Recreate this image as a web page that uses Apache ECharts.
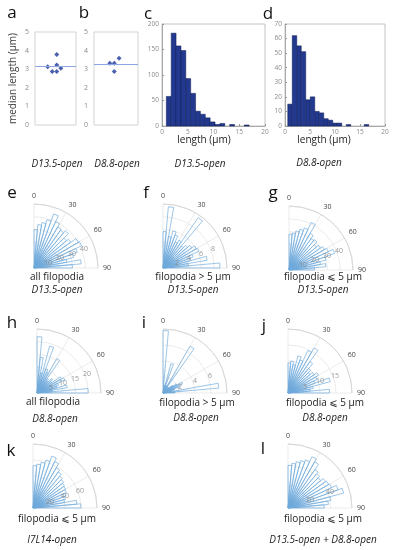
<!DOCTYPE html>
<html><head><meta charset="utf-8">
<script src="https://cdn.jsdelivr.net/npm/echarts@6/dist/echarts.min.js"></script>
<style>html,body{margin:0;padding:0;background:#fff}#c{width:396px;height:550px}</style>
</head><body><div id="c"></div>
<script>
// ---------- data ----------
const medianA = [3.13, 2.87, 2.87, 3.23, 3.79, 3.05];
const jitterA = [0.31, 0.42, 0.53, 0.53, 0.53, 0.63];
const medianLineA = 3.15;
const medianB = [3.32, 3.32, 3.59, 2.87];
const jitterB = [0.36, 0.46, 0.57, 0.46];
const medianLineB = 3.28;

const histCEdges = [0.84,1.79,2.73,3.68,4.62,5.57,6.52,7.46,8.41,9.35,10.3,11.25,12.19,13.14,14.08,15.03,15.97,16.92];
const histCCounts = [58,182,157,148,93,64,29,23,16,8,3,5,0,3,0,0,2];
const histDEdges = [0.55,1.45,2.35,3.25,4.15,5.05,5.95,6.85,7.75,8.65,9.55,10.45,11.35,12.25,13.15,14.05,14.95,15.85,16.75];
const histDCounts = [15,62,55,51,18,20,10,9,5,4,2,2,0,1,0,0,0,1];

const roseBinEdges = [0,5,10,15,20,25,30,35,40,45,50,55,60,65,70,75,80,85,90];
const roseE = [30,34,36,39,45,40,37,36,38,33,35,40,41,36,32,26,37,30];
const roseF = [5.7,9.6,5,6,5.5,4.5,5,9.6,4.5,5,5.5,6,6.2,5,4.5,7,4,8.9];
const roseG = [28,29,31,33,35,41,33,30,31,28,30,32,34,38,30,25,29,20];
const roseH = [22,14,8,19,10,9,15.5,7,6,8,7,11,12,9,8,12,6,20];
const roseI = [7.8,0,1,3.8,0,1,6.75,1,0.5,1,1.5,2,2.7,2.2,1.5,1,7,1.5];
const roseJ = [9.4,10,9,12,11,14.7,16.3,12,10,9,10,11,10,9,13.7,8,7,13];
const roseK = [53,55,58,62,69,64,58,55,52,50,48,47,46,44,42,40,55,60];
const roseL = [40,42,44,46,48,53,50,44,42,40,43,44,45,50,54,41,38,34];

const ticksE = [10,20,30,40], maxE = 50;
const ticksF = [2,4,6,8],     maxF = 10;
const ticksG = [10,20,30,40], maxG = 50;
const ticksH = [5,10,15,20],  maxH = 25;
const ticksI = [2,4,6],       maxI = 8;
const ticksJ = [5,10,15],     maxJ = 20;
const ticksK = [20,40,60],    maxK = 80;
const ticksL = [20,40],       maxL = 60;

// ---------- layout ----------
const FONT = '"Open Sans", "DejaVu Sans", sans-serif';
const chart = echarts.init(document.getElementById('c'), null, {renderer:'canvas'});

const roses = [
  {v: roseE, t: ticksE, m: maxE, c: [34, 268]},
  {v: roseF, t: ticksF, m: maxF, c: [163, 268]},
  {v: roseG, t: ticksG, m: maxG, c: [289, 270]},
  {v: roseH, t: ticksH, m: maxH, c: [37, 393]},
  {v: roseI, t: ticksI, m: maxI, c: [163, 393]},
  {v: roseJ, t: ticksJ, m: maxJ, c: [288, 393]},
  {v: roseK, t: ticksK, m: maxK, c: [33, 508]},
  {v: roseL, t: ticksL, m: maxL, c: [288, 508]}
];
const R = 64;

const polar = [], angleAxis = [], radiusAxis = [], series = [];

roses.forEach((rs, i) => {
  polar.push({center: rs.c, radius: R});
  angleAxis.push({
    polarIndex: i, type: 'value', min: 0, max: 90, interval: 30,
    startAngle: 90, endAngle: 0, clockwise: true,
    axisLine: {lineStyle: {color: '#d6d6d6', width: 1}},
    axisTick: {show: false},
    axisLabel: {fontSize: 7, color: '#444', fontFamily: FONT, margin: 5},
    splitLine: {show: true, lineStyle: {color: '#e6e6e6', width: 0.8}}
  });
  radiusAxis.push({
    polarIndex: i, type: 'value', min: 0, max: rs.m, interval: rs.t[1] - rs.t[0],
    axisLine: {show: false}, axisTick: {show: false}, axisLabel: {show: false},
    splitLine: {show: true, lineStyle: {color: '#e6e6e6', width: 0.8}}
  });
  series.push({
    type: 'custom', coordinateSystem: 'polar', polarIndex: i, silent: true,
    encode: {radius: 2, angle: 0},
    data: rs.v.map((val, k) => [roseBinEdges[k], roseBinEdges[k + 1], val]),
    renderItem: function (params, api) {
      const a0 = api.value(0), a1 = api.value(1), r = api.value(2);
      if (!r) return null;
      const o = api.coord([0, a0]);
      const p1 = api.coord([r, a0]);
      const p2 = api.coord([r, a1]);
      const cs = params.coordSys;
      return {
        type: 'polygon',
        shape: {points: [o, p1, p2]},
        style: {
          fill: {type: 'radial', x: cs.cx, y: cs.cy, r: cs.r, global: true,
            colorStops: [
              {offset: 0, color: 'rgba(8,85,165,1)'},
              {offset: 0.08, color: 'rgba(40,118,192,0.75)'},
              {offset: 0.25, color: 'rgba(120,172,222,0.32)'},
              {offset: 0.5, color: 'rgba(205,226,245,0.06)'},
              {offset: 1, color: 'rgba(255,255,255,0)'}
            ]},
          stroke: '#74aedd', lineWidth: 0.7
        }
      };
    }
  });
  series.push({
    type: 'scatter', coordinateSystem: 'polar', polarIndex: i, silent: true,
    symbolSize: 0, z: 10,
    data: rs.t.map(t => [t, 70]),
    label: {show: true, position: 'inside', offset: [2, -1], formatter: p => String(p.value[0]),
      fontSize: 7, color: '#808080', fontFamily: FONT}
  });
});

const grid = [
  {left: 35, top: 32, width: 41, height: 93, show: true, borderColor: '#c8c8c8', borderWidth: 0.8},
  {left: 94, top: 32, width: 44, height: 93, show: true, borderColor: '#c8c8c8', borderWidth: 0.8},
  {left: 162, top: 24, width: 103, height: 102, show: true, borderColor: '#b5b5b5', borderWidth: 0.8},
  {left: 285, top: 24, width: 100, height: 102, show: true, borderColor: '#b5b5b5', borderWidth: 0.8}
];
const smallLabel = {fontSize: 6.5, color: '#8a8a8a', fontFamily: FONT};
const xAxis = [
  {gridIndex: 0, type: 'value', min: 0, max: 1, show: false},
  {gridIndex: 1, type: 'value', min: 0, max: 1, show: false},
  {gridIndex: 2, type: 'value', min: 0, max: 20, interval: 5,
    axisLine: {lineStyle: {color: '#999', width: 0.8}}, axisTick: {inside: true, length: 2, lineStyle: {color: '#999'}},
    axisLabel: Object.assign({margin: 3}, smallLabel), splitLine: {show: false}},
  {gridIndex: 3, type: 'value', min: 0, max: 20, interval: 5,
    axisLine: {lineStyle: {color: '#999', width: 0.8}}, axisTick: {inside: true, length: 2, lineStyle: {color: '#999'}},
    axisLabel: Object.assign({margin: 3}, smallLabel), splitLine: {show: false}}
];
const yAxis = [
  {gridIndex: 0, type: 'value', min: 0, max: 5, interval: 1,
    axisLine: {show: false}, axisTick: {show: false}, splitLine: {show: false},
    axisLabel: Object.assign({margin: 6}, smallLabel, {fontSize: 7}),
    name: 'median length (\u00b5m)', nameLocation: 'middle', nameGap: 17, nameRotate: 90,
    nameTextStyle: {fontSize: 10, color: '#444', fontFamily: FONT}},
  {gridIndex: 1, type: 'value', min: 0, max: 5, interval: 1,
    axisLine: {show: false}, axisTick: {show: false}, splitLine: {show: false},
    axisLabel: Object.assign({margin: 6}, smallLabel, {fontSize: 7})},
  {gridIndex: 2, type: 'value', min: 0, max: 200, interval: 50,
    axisLine: {show: true, lineStyle: {color: '#999', width: 0.8}}, axisTick: {inside: true, length: 2, lineStyle: {color: '#999'}},
    splitLine: {show: false}, axisLabel: Object.assign({margin: 3}, smallLabel)},
  {gridIndex: 3, type: 'value', min: 0, max: 70, interval: 10,
    axisLine: {show: true, lineStyle: {color: '#999', width: 0.8}}, axisTick: {inside: true, length: 2, lineStyle: {color: '#999'}},
    splitLine: {show: false}, axisLabel: Object.assign({margin: 3}, smallLabel)}
];

function medianSeries(gi, vals, jit, line) {
  return {
    type: 'scatter', xAxisIndex: gi, yAxisIndex: gi, symbol: 'diamond', symbolSize: 5,
    itemStyle: {color: '#1f3a9a'}, silent: true,
    data: vals.map((v, k) => [jit[k], v]),
    markLine: {silent: true, symbol: 'none', label: {show: false},
      lineStyle: {color: '#8ea6e2', width: 1, type: 'solid'},
      data: [{yAxis: line}]}
  };
}
series.push(medianSeries(0, medianA, jitterA, medianLineA));
series.push(medianSeries(1, medianB, jitterB, medianLineB));

function histSeries(gi, edges, counts) {
  return {
    type: 'custom', xAxisIndex: gi, yAxisIndex: gi, silent: true,
    encode: {x: [0, 1], y: 2},
    data: counts.map((c, k) => [edges[k], edges[k + 1], c]),
    renderItem: function (params, api) {
      if (!api.value(2)) return null;
      const p0 = api.coord([api.value(0), api.value(2)]);
      const p1 = api.coord([api.value(1), 0]);
      return {type: 'rect', shape: {x: p0[0], y: p0[1], width: p1[0] - p0[0], height: p1[1] - p0[1]},
        style: {fill: '#22398f', stroke: '#0f1c55', lineWidth: 0.5}};
    }
  };
}
series.push(histSeries(2, histCEdges, histCCounts));
series.push(histSeries(3, histDEdges, histDCounts));

// ---------- texts ----------
function txt(text, x, y, size, italic, color) {
  return {type: 'text', silent: true, style: {text: text, x: x, y: y, align: 'center', verticalAlign: 'middle',
    font: (italic ? 'italic ' : '') + size + 'px ' + FONT, fill: color || '#222'}};
}
const letters = [['a', 12, 13], ['b', 84, 13], ['c', 148, 14], ['d', 268, 14], ['e', 12, 193], ['f', 146, 193], ['g', 273, 193],
  ['h', 12, 323], ['i', 144, 323], ['j', 264, 326], ['k', 11, 451], ['l', 263, 449]];
const graphic = letters.map(l => txt(l[0], l[1], l[2], 17, false, '#111'));
const LE5 = 'filopodia \u2a7d 5 \u00b5m';
const GT5 = 'filopodia > 5 \u00b5m';
[
  ['length (\u00b5m)', 204, 140, false], ['length (\u00b5m)', 324, 140, false],
  ['D13.5-open', 57, 164, true], ['D8.8-open', 117, 164, true], ['D13.5-open', 200, 164, true], ['D8.8-open', 319, 163, true],
  ['all filopodia', 57, 277, false], ['D13.5-open', 57, 290, true],
  [GT5, 193, 277, false], ['D13.5-open', 193, 290, true],
  [LE5, 323, 277, false], ['D13.5-open', 323, 290, true],
  ['all filopodia', 53, 402, false], ['D8.8-open', 55, 419, true],
  [GT5, 197, 403, false], ['D8.8-open', 196, 418, true],
  [LE5, 325, 403, false], ['D8.8-open', 325, 418, true],
  [LE5, 57, 519, false], ['I7L14-open', 52, 540, true],
  [LE5, 323, 519, false], ['D13.5-open + D8.8-open', 323, 540, true]
].forEach(t => graphic.push(txt(t[0], t[1], t[2], 10, t[3], '#222')));

chart.setOption({
  animation: false,
  backgroundColor: '#fff',
  grid: grid, xAxis: xAxis, yAxis: yAxis,
  polar: polar, angleAxis: angleAxis, radiusAxis: radiusAxis,
  series: series,
  graphic: graphic
});
</script>
</body></html>
